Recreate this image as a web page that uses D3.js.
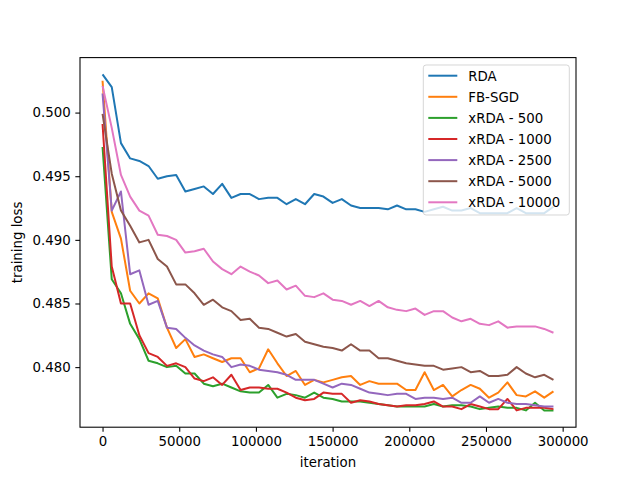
<!DOCTYPE html>
<html><head><meta charset="utf-8">
<script src="https://cdn.jsdelivr.net/npm/d3@7"></script>
<style>body{margin:0;background:#fff}svg{display:block}text{font-family:"DejaVu Sans",sans-serif}</style>
</head><body>
<svg id="c" width="640" height="480"></svg>
<script>
const iterations = [0,6000,12000,18000,24000,30000,36000,42000,48000,54000,60000,66000,72000,78000,84000,90000,96000,102000,108000,114000,120000,126000,132000,138000,144000,150000,156000,162000,168000,174000,180000,186000,192000,198000,204000,210000,216000,222000,228000,234000,240000,246000,252000,258000,264000,270000,276000,282000,288000,294000];
const rda = [0.5030,0.5020,0.4976,0.4964,0.4962,0.4958,0.4948,0.4950,0.4951,0.4938,0.4940,0.4942,0.4936,0.4944,0.4933,0.4936,0.4936,0.4932,0.4933,0.4933,0.4928,0.4932,0.4928,0.4936,0.4934,0.4929,0.4932,0.4927,0.4925,0.4925,0.4925,0.4924,0.4927,0.4924,0.4924,0.4922,0.4924,0.4926,0.4923,0.4923,0.4925,0.4921,0.4921,0.4921,0.4921,0.4925,0.4921,0.4921,0.4921,0.4926];
const fbsgd = [0.5025,0.4922,0.4901,0.4860,0.4850,0.4858,0.4854,0.4831,0.4815,0.4822,0.4808,0.4810,0.4807,0.4804,0.4807,0.4807,0.4796,0.4799,0.4814,0.4803,0.4793,0.4797,0.4786,0.4790,0.4788,0.4790,0.4792,0.4793,0.4786,0.4789,0.4787,0.4787,0.4787,0.4782,0.4782,0.4796,0.4782,0.4786,0.4777,0.4782,0.4786,0.4783,0.4776,0.4780,0.4788,0.4778,0.4777,0.4781,0.4776,0.4781];
const xrda500 = [0.4973,0.4869,0.4858,0.4834,0.4822,0.4805,0.4803,0.4800,0.4801,0.4795,0.4795,0.4787,0.4785,0.4787,0.4784,0.4781,0.4780,0.4780,0.4786,0.4776,0.4779,0.4778,0.4776,0.4780,0.4776,0.4775,0.4773,0.4773,0.4773,0.4772,0.4771,0.4770,0.4769,0.4769,0.4769,0.4769,0.4771,0.4769,0.4770,0.4770,0.4769,0.4767,0.4768,0.4769,0.4768,0.4768,0.4766,0.4772,0.4766,0.4766];
const xrda1000 = [0.4991,0.4879,0.4850,0.4850,0.4825,0.4811,0.4808,0.4801,0.4803,0.4800,0.4791,0.4789,0.4792,0.4786,0.4794,0.4782,0.4784,0.4784,0.4783,0.4783,0.4780,0.4776,0.4774,0.4775,0.4780,0.4779,0.4779,0.4772,0.4774,0.4773,0.4771,0.4770,0.4769,0.4770,0.4770,0.4771,0.4773,0.4769,0.4769,0.4767,0.4771,0.4769,0.4767,0.4767,0.4775,0.4766,0.4768,0.4768,0.4768,0.4767];
const xrda2500 = [0.5015,0.4923,0.4938,0.4873,0.4876,0.4849,0.4852,0.4831,0.4830,0.4823,0.4817,0.4813,0.4810,0.4808,0.4800,0.4802,0.4801,0.4798,0.4797,0.4796,0.4794,0.4790,0.4790,0.4790,0.4787,0.4784,0.4787,0.4786,0.4783,0.4780,0.4779,0.4778,0.4779,0.4779,0.4775,0.4776,0.4776,0.4775,0.4776,0.4772,0.4772,0.4777,0.4772,0.4775,0.4772,0.4771,0.4771,0.4770,0.4769,0.4769];
const xrda5000 = [0.4999,0.4952,0.4923,0.4911,0.4898,0.4900,0.4885,0.4879,0.4865,0.4865,0.4858,0.4849,0.4853,0.4847,0.4844,0.4837,0.4838,0.4831,0.4830,0.4827,0.4824,0.4826,0.4820,0.4818,0.4816,0.4815,0.4813,0.4818,0.4813,0.4813,0.4807,0.4807,0.4805,0.4803,0.4802,0.4801,0.4801,0.4798,0.4799,0.4800,0.4796,0.4797,0.4793,0.4793,0.4794,0.4800,0.4795,0.4792,0.4794,0.4790];
const xrda10000 = [0.5021,0.4988,0.4951,0.4934,0.4923,0.4919,0.4904,0.4903,0.4900,0.4890,0.4891,0.4893,0.4883,0.4877,0.4873,0.4879,0.4875,0.4872,0.4866,0.4868,0.4861,0.4864,0.4856,0.4855,0.4858,0.4853,0.4852,0.4849,0.4852,0.4848,0.4852,0.4847,0.4845,0.4844,0.4846,0.4841,0.4844,0.4844,0.4839,0.4836,0.4838,0.4834,0.4833,0.4836,0.4831,0.4832,0.4832,0.4832,0.4830,0.4827];
const seriesNames = ["RDA","FB-SGD","xRDA - 500","xRDA - 1000","xRDA - 2500","xRDA - 5000","xRDA - 10000"];
const seriesColors = ["#1f77b4","#ff7f0e","#2ca02c","#d62728","#9467bd","#8c564b","#e377c2"];
const xTicks = [0,50000,100000,150000,200000,250000,300000];
const yTicks = [0.480,0.485,0.490,0.495,0.500];
const xLabel = "iteration", yLabel = "training loss";

const seriesValues = [rda,fbsgd,xrda500,xrda1000,xrda2500,xrda5000,xrda10000];
const svg = d3.select("#c");
const L=80, R=576, T=57.6, B=427.2;
const xmin=d3.min(iterations), xmax=d3.max(iterations);
const allV = seriesValues.flat();
const ymin=d3.min(allV), ymax=d3.max(allV);
const xp=(xmax-xmin)*0.05, yp=(ymax-ymin)*0.05;
const x=d3.scaleLinear().domain([xmin-xp,xmax+xp]).range([L,R]);
const y=d3.scaleLinear().domain([ymin-yp,ymax+yp]).range([B,T]);

const clip = svg.append("clipPath").attr("id","clp").append("rect").attr("x",L).attr("y",T).attr("width",R-L).attr("height",B-T);
const line=d3.line().x((d,i)=>x(iterations[i])).y(d=>y(d));
const g=svg.append("g").attr("clip-path","url(#clp)");
seriesValues.forEach((s,k)=>{
  g.append("path").attr("d",line(s)).attr("fill","none").attr("stroke",seriesColors[k])
   .attr("stroke-width",2).attr("stroke-linejoin","round").attr("stroke-linecap","butt");
});

// axes
const xa=svg.append("g").attr("transform",`translate(0,${B})`)
  .call(d3.axisBottom(x).tickValues(xTicks).tickFormat(d3.format("d")).tickSize(4.67).tickPadding(4.2));
const ya=svg.append("g").attr("transform",`translate(${L},0)`)
  .call(d3.axisLeft(y).tickValues(yTicks).tickFormat(d3.format(".3f")).tickSize(4.67).tickPadding(4.67));
[xa,ya].forEach(a=>{
  a.select(".domain").remove();
  a.selectAll("line").attr("stroke","#000").attr("stroke-width",1.07);
  a.selectAll("text").attr("font-size","13.33px").attr("fill","#000").attr("font-family","DejaVu Sans");
});
svg.append("rect").attr("x",L).attr("y",T).attr("width",R-L).attr("height",B-T)
  .attr("fill","none").attr("stroke","#000").attr("stroke-width",1.07);

svg.append("text").attr("x",(L+R)/2).attr("y",467).attr("text-anchor","middle")
  .attr("font-size","13.33px").text(xLabel);
svg.append("text").attr("transform",`translate(22,${(T+B)/2}) rotate(-90)`).attr("text-anchor","middle")
  .attr("font-size","13.33px").text(yLabel);

// legend
const lg=svg.append("g");
lg.append("rect").attr("x",423.3).attr("y",65).attr("width",146).attr("height",150).attr("rx",2.8)
  .attr("fill","#fff").attr("fill-opacity",0.8).attr("stroke","#cccccc").attr("stroke-opacity",0.8).attr("stroke-width",1);
seriesNames.forEach((n,k)=>{
  const yy=75.7+k*21.1;
  lg.append("line").attr("x1",428.3).attr("x2",457.3).attr("y1",yy).attr("y2",yy)
    .attr("stroke",seriesColors[k]).attr("stroke-width",2);
  lg.append("text").attr("x",468.3).attr("y",yy+4.8).attr("font-size","13.33px").text(n);
});
</script>
</body></html>
